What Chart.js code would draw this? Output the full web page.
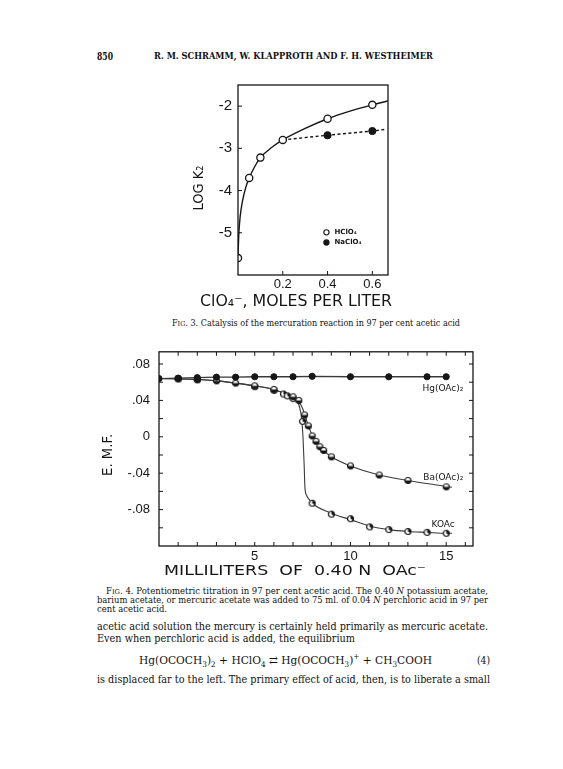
<!DOCTYPE html>
<html>
<head>
<meta charset="utf-8">
<script src="https://cdn.jsdelivr.net/npm/chart.js@4.4.0/dist/chart.umd.min.js"></script>
<style>
  body { margin: 0; background: #fff; }
  #page { position: relative; width: 563px; height: 769px; overflow: hidden; background: #fff; color: #111; }
  canvas { position: absolute; }
  .ln { position: absolute; white-space: nowrap; line-height: 1; transform-origin: 0 50%; font-family: "DejaVu Serif", "Liberation Serif", serif; }
  .ln sub, .ln sup { font-size: .68em; line-height: 0; }
</style>
</head>
<body>
<div id="page">
  <canvas id="fig3" width="216" height="245" style="left:187px;top:70px"></canvas>
  <canvas id="fig4" width="393" height="248" style="left:95px;top:335px"></canvas>
</div>
<script>
/*
 * Fig. 3 - log k2 contra ClO4-
 * */
var hclo4X = [0, 0.05, 0.1, 0.2, 0.4, 0.6];
var hclo4Y = [-5.6, -3.7, -3.22, -2.8, -2.3, -1.97];
var naclo4X = [0.4, 0.6];
var naclo4Y = [-2.69, -2.59];

// curva desenhada
var hclo4CurveX = [0, 0.004, 0.01, 0.02, 0.035, 0.05, 0.075, 0.1, 0.15, 0.2, 0.3, 0.4, 0.5, 0.6, 0.67];
var hclo4CurveY = [-5.55, -5.0, -4.6, -4.25, -3.92, -3.7, -3.43, -3.22, -2.98, -2.8, -2.53, -2.3, -2.12, -1.97, -1.88];
var naclo4LineX = [0.2, 0.4, 0.6, 0.66];
var naclo4LineY = [-2.8, -2.69, -2.59, -2.55];

var logKTicks = [-2, -3, -4, -5];
var molesTicks = [0.2, 0.4, 0.6];

/*
 * Fig. 4 - titulacao potenciometrica
 * */
var hgX = [0, 1, 2, 3, 4, 5, 6, 7, 8, 10, 12, 14, 15];
var hgY = [0.064, 0.0645, 0.065, 0.0655, 0.0655, 0.066, 0.066, 0.066, 0.0665, 0.066, 0.066, 0.066, 0.066];

var baX = [1, 2, 3, 4, 5, 6, 7, 7.3, 7.6, 7.8, 8, 8.2, 8.4, 8.6, 9, 10, 11.5, 13, 15];
var baY = [0.064, 0.063, 0.0615, 0.059, 0.056, 0.052, 0.044, 0.040, 0.024, 0.012, 0.001, -0.005, -0.011, -0.015, -0.022, -0.032, -0.042, -0.048, -0.055];
var baCurveX = [0, 2, 3, 4, 5, 6, 6.5, 7, 7.3, 7.5, 7.65, 7.8, 8, 8.3, 8.6, 9, 10, 11.5, 13, 15, 15.3];
var baCurveY = [0.064, 0.063, 0.0615, 0.059, 0.056, 0.052, 0.048, 0.044, 0.039, 0.031, 0.022, 0.012, 0.002, -0.007, -0.015, -0.022, -0.032, -0.042, -0.048, -0.0545, -0.0555];

var koacX = [1, 2, 5, 6, 6.5, 6.7, 7, 7.5, 8, 9, 10, 11, 12, 13, 14, 15];
var koacY = [0.0635, 0.0625, 0.055, 0.051, 0.047, 0.045, 0.042, 0.017, -0.073, -0.085, -0.090, -0.099, -0.102, -0.104, -0.105, -0.106];
var koacCurveX = [0, 2, 3, 4, 5, 6, 6.5, 7, 7.2, 7.35, 7.45, 7.52, 7.58, 7.62, 7.7, 7.85, 8, 9, 10, 11, 12, 13, 14, 15, 15.3];
var koacCurveY = [0.064, 0.063, 0.0615, 0.059, 0.056, 0.052, 0.048, 0.044, 0.040, 0.032, 0.020, 0.0, -0.03, -0.055, -0.064, -0.069, -0.073, -0.084, -0.091, -0.098, -0.102, -0.104, -0.105, -0.106, -0.106];

var emfTicks = [0.08, 0.04, 0, -0.04, -0.08];
var emfMinor = [0.08, 0.06, 0.04, 0.02, 0, -0.02, -0.04, -0.06, -0.08, -0.10];
var mlTicks = [5, 10, 15];
var mlMinor = [1, 2, 3, 4, 5, 6, 7, 8, 9, 10, 11, 12, 13, 14, 15, 16];

var INK = '#161616';

function pts(xs, ys) {
    var out = [];
    for (var i = 0; i < xs.length; i++) {
        out.push({x: xs[i], y: ys[i]});
    }
    return out;
}

function fitText(ctx, text, cx, cy, w, font, rot) {
    ctx.save();
    ctx.font = font;
    var m = ctx.measureText(text).width;
    ctx.translate(cx, cy);
    if (rot) ctx.rotate(rot);
    ctx.scale(w / m, 1);
    ctx.textAlign = 'center';
    ctx.textBaseline = 'middle';
    ctx.fillStyle = INK;
    ctx.fillText(text, 0, 0);
    ctx.restore();
}

// bolinha meio cheia (Ba / KOAc)
function halfDot(r, a0, a1) {
    var c = document.createElement('canvas');
    var s = Math.ceil(2 * r + 3);
    c.width = s; c.height = s;
    var g = c.getContext('2d');
    var m = s / 2;
    g.beginPath(); g.arc(m, m, r, 0, 2 * Math.PI); g.fillStyle = '#fff'; g.fill();
    g.beginPath(); g.moveTo(m, m); g.arc(m, m, r, a0, a1); g.closePath(); g.fillStyle = INK; g.fill();
    g.beginPath(); g.arc(m, m, r, 0, 2 * Math.PI); g.lineWidth = 1.2; g.strokeStyle = INK; g.stroke();
    return c;
}

var framePlugin = {
    id: 'frame',
    afterDatasetsDraw: function (chart, args, opts) {
        var ctx = chart.ctx, a = chart.chartArea;
        var x = chart.scales.x, y = chart.scales.y;
        var len = 4;
        ctx.save();
        ctx.strokeStyle = INK;
        ctx.lineWidth = 1.3;
        ctx.strokeRect(a.left, a.top, a.right - a.left, a.bottom - a.top);
        ctx.lineWidth = 1;
        ctx.beginPath();
        (opts.left || []).forEach(function (v) { var p = y.getPixelForValue(v); ctx.moveTo(a.left, p); ctx.lineTo(a.left + len, p); });
        (opts.right || []).forEach(function (v) { var p = y.getPixelForValue(v); ctx.moveTo(a.right, p); ctx.lineTo(a.right - len, p); });
        (opts.bottom || []).forEach(function (v) { var p = x.getPixelForValue(v); ctx.moveTo(p, a.bottom); ctx.lineTo(p, a.bottom - len); });
        (opts.top || []).forEach(function (v) { var p = x.getPixelForValue(v); ctx.moveTo(p, a.top); ctx.lineTo(p, a.top + len); });
        ctx.stroke();

        var cx = (a.left + a.right) / 2, cy = (a.top + a.bottom) / 2;
        if (opts.xTitle) {
            var t = opts.xTitle;
            fitText(ctx, t.text, cx + t.dx, a.bottom + t.dy, t.w, t.size + 'px "DejaVu Sans"');
        }
        if (opts.yTitle) {
            var u = opts.yTitle;
            fitText(ctx, u.text, a.left + u.dx, cy + u.dy, u.w, u.size + 'px "DejaVu Sans"', -Math.PI / 2);
        }

        // legenda / rotulos das curvas
        ctx.fillStyle = INK;
        ctx.textBaseline = 'middle';
        (opts.legend || []).forEach(function (it) {
            var px = x.getPixelForValue(it.x), py = y.getPixelForValue(it.y);
            ctx.beginPath();
            ctx.arc(px, py, 2.6, 0, 2 * Math.PI);
            ctx.fillStyle = it.filled ? INK : '#fff';
            ctx.fill();
            ctx.lineWidth = 1.1;
            ctx.stroke();
            ctx.fillStyle = INK;
            ctx.font = 'bold 7px "DejaVu Sans"';
            ctx.textAlign = 'left';
            ctx.fillText(it.text, px + 8, py);
        });
        (opts.labels || []).forEach(function (it) {
            ctx.font = '9px "DejaVu Sans"';
            ctx.textAlign = 'right';
            ctx.fillText(it.text, x.getPixelForValue(it.x), y.getPixelForValue(it.y));
        });
        ctx.restore();
    }
};

function fixTicks(list) {
    return function (scale) {
        scale.ticks = list.map(function (v) { return {value: v}; });
    };
}

function fixSize(prop, val) {
    return function (scale) { scale[prop] = val; };
}

function loadFig3() {
    var ctx = document.getElementById('fig3').getContext('2d');
    return new Chart(ctx, {
        type: 'scatter',
        data: {
            datasets: [
                {data: pts(hclo4X, hclo4Y), pointRadius: 3.6, pointBackgroundColor: '#fff', pointBorderColor: INK, pointBorderWidth: 1.3, order: 0},
                {data: pts(naclo4X, naclo4Y), pointRadius: 3.6, pointBackgroundColor: INK, pointBorderColor: INK, pointBorderWidth: 1, order: 0},
                {data: pts(hclo4CurveX, hclo4CurveY), showLine: true, pointRadius: 0, borderColor: INK, borderWidth: 1.4, cubicInterpolationMode: 'monotone', order: 1},
                {data: pts(naclo4LineX, naclo4LineY), showLine: true, pointRadius: 0, borderColor: INK, borderWidth: 1.4, borderDash: [3, 2.5], order: 1}
            ]
        },
        options: {
            responsive: false,
            animation: false,
            layout: {padding: {top: 10, right: 15, left: 0, bottom: 0}},
            plugins: {
                legend: {display: false},
                tooltip: {enabled: false},
                frame: {
                    left: logKTicks,
                    bottom: molesTicks,
                    xTitle: {text: 'ClO\u2084\u207B, MOLES PER LITER', dx: -17, dy: 27, w: 192, size: 15},
                    yTitle: {text: 'LOG K\u2082', dx: -39, dy: 8, w: 45, size: 14},
                    legend: [
                        {text: 'HClO\u2084', x: 0.395, y: -4.99, filled: false},
                        {text: 'NaClO\u2084', x: 0.395, y: -5.23, filled: true}
                    ]
                }
            },
            scales: {
                x: {
                    type: 'linear', min: 0, max: 0.67,
                    afterBuildTicks: fixTicks(molesTicks),
                    afterFit: fixSize('height', 40),
                    grid: {display: false, drawTicks: false},
                    border: {display: false},
                    ticks: {padding: 2, color: INK, font: {family: 'Liberation Sans', size: 13},
                        callback: function (v) { return v.toFixed(1); }}
                },
                y: {
                    type: 'linear', min: -6, max: -1.5,
                    afterBuildTicks: fixTicks(logKTicks),
                    afterFit: fixSize('width', 51),
                    grid: {display: false, drawTicks: false},
                    border: {display: false},
                    ticks: {padding: 6, color: INK, font: {family: 'Liberation Sans', size: 15},
                        callback: function (v) { return String(v); }}
                }
            }
        },
        plugins: [framePlugin]
    });
}

function loadFig4() {
    var ctx = document.getElementById('fig4').getContext('2d');
    var baDot = halfDot(3, 0, Math.PI);
    var kDot = halfDot(3, -Math.PI / 2, Math.PI / 6);
    return new Chart(ctx, {
        type: 'scatter',
        data: {
            datasets: [
                {data: pts(hgX, hgY), pointRadius: 3.1, pointBackgroundColor: INK, pointBorderColor: INK, order: 0},
                {data: pts(baX, baY), pointStyle: baDot, order: 0},
                {data: pts(koacX, koacY), pointStyle: kDot, order: 0},
                {data: pts(hgX, hgY), showLine: true, pointRadius: 0, borderColor: '#3a3a3a', borderWidth: 1.3, order: 1},
                {data: pts(baCurveX, baCurveY), showLine: true, pointRadius: 0, borderColor: '#3a3a3a', borderWidth: 1.1, cubicInterpolationMode: 'monotone', order: 1},
                {data: pts(koacCurveX, koacCurveY), showLine: true, pointRadius: 0, borderColor: '#3a3a3a', borderWidth: 1.1, cubicInterpolationMode: 'monotone', order: 1}
            ]
        },
        options: {
            responsive: false,
            animation: false,
            layout: {padding: {top: 9, right: 15, left: 0, bottom: 0}},
            plugins: {
                legend: {display: false},
                tooltip: {enabled: false},
                frame: {
                    left: emfMinor,
                    right: emfMinor,
                    bottom: mlMinor,
                    top: mlMinor,
                    xTitle: {text: 'MILLILITERS  OF  0.40 N  OAc\u207B', dx: -21, dy: 25, w: 262, size: 14},
                    yTitle: {text: 'E. M.F.', dx: -51, dy: 6, w: 42, size: 14},
                    labels: [
                        {text: 'Hg(OAc)\u2082', x: 15.9, y: 0.053},
                        {text: 'Ba(OAc)\u2082', x: 15.9, y: -0.0445},
                        {text: 'KOAc', x: 15.45, y: -0.097}
                    ]
                }
            },
            scales: {
                x: {
                    type: 'linear', min: 0, max: 16.4,
                    afterBuildTicks: fixTicks(mlTicks),
                    afterFit: fixSize('height', 37),
                    grid: {display: false, drawTicks: false},
                    border: {display: false},
                    ticks: {padding: 3, color: INK, font: {family: 'Liberation Sans', size: 13}}
                },
                y: {
                    type: 'linear', min: -0.12, max: 0.0934,
                    afterBuildTicks: fixTicks(emfTicks),
                    afterFit: fixSize('width', 64),
                    grid: {display: false, drawTicks: false},
                    border: {display: false},
                    ticks: {padding: 9, color: INK, font: {family: 'Liberation Sans', size: 13},
                        callback: function (v) {
                            if (v === 0) return '0';
                            return (v < 0 ? '-' : '') + Math.abs(v).toFixed(2).replace(/^0/, '');
                        }}
                }
            }
        },
        plugins: [framePlugin]
    });
}

/*
 * Texto da pagina
 * */
var pageText = [
    {t: '850', x: 97, y: 56, w: 16, s: 11, b: true},
    {t: 'R. M. SCHRAMM, W. KLAPPROTH AND F. H. WESTHEIMER', x: 154, y: 56, w: 279, s: 8.5, b: true},
    {t: 'F<span style="font-size:.8em">IG</span>. 3. Catalysis of the mercuration reaction in 97 per cent acetic acid', x: 172, y: 323, w: 288, s: 8.5},
    {t: 'F<span style="font-size:.8em">IG</span>. 4. Potentiometric titration in 97 per cent acetic acid. The 0.40 <i>N</i> potassium acetate,', x: 106, y: 591.5, w: 382, s: 8.3},
    {t: 'barium acetate, or mercuric acetate was added to 75 ml. of 0.04 <i>N</i> perchloric acid in 97 per', x: 97, y: 600.5, w: 391, s: 8.3},
    {t: 'cent acetic acid.', x: 97, y: 609.5, w: 70, s: 8.3},
    {t: 'acetic acid solution the mercury is certainly held primarily as mercuric acetate.', x: 97, y: 627, w: 391, s: 11.5},
    {t: 'Even when perchloric acid is added, the equilibrium', x: 97, y: 639, w: 258, s: 11.5},
    {t: 'Hg(OCOCH<sub>3</sub>)<sub>2</sub> + HClO<sub>4</sub> \u21C4 Hg(OCOCH<sub>3</sub>)<sup>+</sup> + CH<sub>3</sub>COOH', x: 139, y: 661, w: 293, s: 11.5},
    {t: '(4)', x: 477, y: 661, w: 13, s: 11.5},
    {t: 'is displaced far to the left. The primary effect of acid, then, is to liberate a small', x: 97, y: 680, w: 393, s: 11.5}
];

function loadText() {
    var page = document.getElementById('page');
    pageText.forEach(function (l) {
        var d = document.createElement('div');
        d.className = 'ln';
        d.innerHTML = l.t;
        d.style.fontSize = l.s + 'px';
        d.style.fontWeight = l.b ? 'bold' : 'normal';
        d.style.left = l.x + 'px';
        d.style.top = (l.y - l.s / 2) + 'px';
        page.appendChild(d);
        var w = d.getBoundingClientRect().width;
        d.style.transform = 'scaleX(' + (l.w / w) + ')';
    });
}

loadText();
loadFig3();
loadFig4();
</script>
</body>
</html>
